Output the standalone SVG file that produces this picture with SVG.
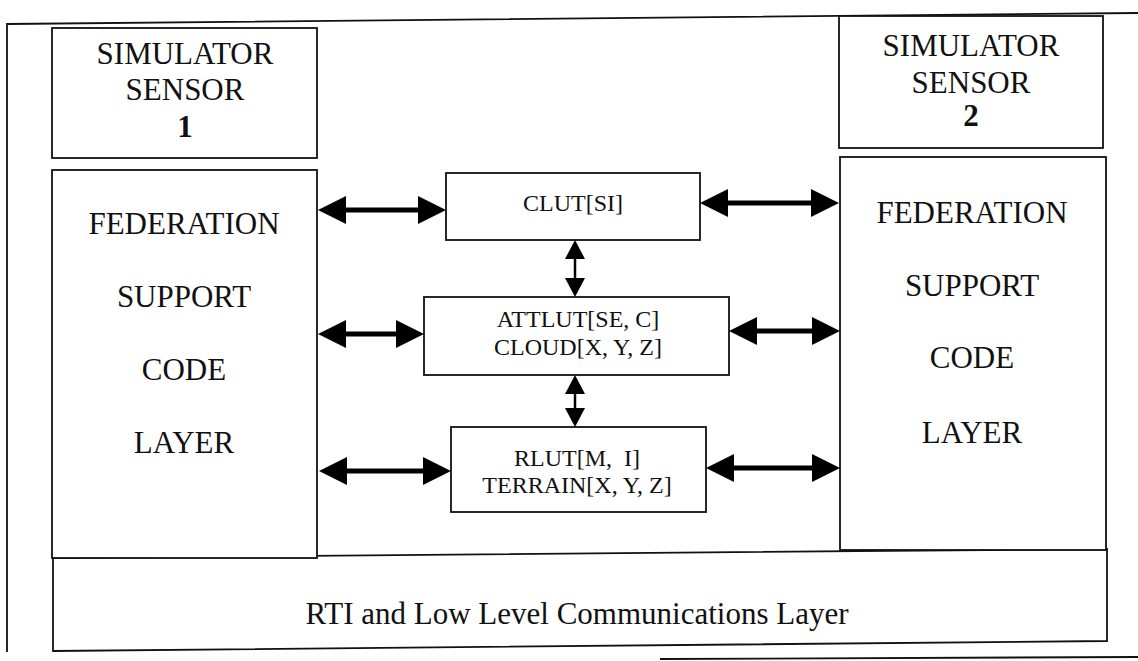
<svg xmlns="http://www.w3.org/2000/svg" width="1138" height="661" viewBox="0 0 1138 661">
  <style>
    .box { fill: #ffffff; stroke: #111111; stroke-width: 1.8; }
    .frame { fill: none; stroke: #111111; stroke-width: 1.8; }
    .t { font-family: "Liberation Serif", "Times New Roman", serif; fill: #111111; text-anchor: middle; }
    .big { font-size: 31px; }
    .mid { font-size: 24px; }
    .b { font-weight: bold; }
    .thick { stroke: #000000; stroke-width: 5; fill: none; marker-start: url(#headBig); marker-end: url(#headBig); }
    .thin { stroke: #000000; stroke-width: 2.5; fill: none; marker-start: url(#headSmall); marker-end: url(#headSmall); }
  </style>
  <defs>
    <marker id="headBig" viewBox="0 0 28 28" refX="14" refY="14" markerWidth="28" markerHeight="28" markerUnits="userSpaceOnUse" orient="auto-start-reverse">
      <path d="M0,0 L28,14 L0,28 Z" fill="#000000"/>
    </marker>
    <marker id="headSmall" viewBox="0 0 19 20" refX="9.5" refY="10" markerWidth="19" markerHeight="20" markerUnits="userSpaceOnUse" orient="auto-start-reverse">
      <path d="M0,0 L19,10 L0,20 Z" fill="#000000"/>
    </marker>
  </defs>
  <rect width="1138" height="661" fill="#ffffff"/>

  <g id="frame">
    <path class="frame" d="M1138,13 L7,24 L7,652"/>
    <path class="frame" d="M660,659 L1138,657"/>
  </g>

  <g id="sensor1">
    <rect class="box" x="52" y="28" width="265" height="130"/>
    <text class="t big" x="185" y="64">SIMULATOR</text>
    <text class="t big" x="185" y="100">SENSOR</text>
    <text class="t big b" x="185" y="137">1</text>
  </g>

  <g id="sensor2">
    <rect class="box" x="839" y="16" width="264" height="132"/>
    <text class="t big" x="971" y="56">SIMULATOR</text>
    <text class="t big" x="971" y="93">SENSOR</text>
    <text class="t big b" x="971" y="126">2</text>
  </g>

  <g id="rti">
    <path class="box" d="M53,558 L1107,549 L1107,641 L53,651 Z"/>
    <text class="t big" x="577" y="624">RTI and Low Level Communications Layer</text>
  </g>

  <g id="fsc1">
    <rect class="box" x="52" y="170" width="265" height="388"/>
    <text class="t big" x="184" y="234">FEDERATION</text>
    <text class="t big" x="184" y="307">SUPPORT</text>
    <text class="t big" x="184" y="380">CODE</text>
    <text class="t big" x="184" y="453">LAYER</text>
  </g>

  <g id="fsc2">
    <rect class="box" x="840" y="157" width="266" height="393"/>
    <text class="t big" x="972" y="223">FEDERATION</text>
    <text class="t big" x="972" y="296">SUPPORT</text>
    <text class="t big" x="972" y="368">CODE</text>
    <text class="t big" x="972" y="443">LAYER</text>
  </g>

  <g id="clut">
    <rect class="box" x="446" y="173" width="254" height="67"/>
    <text class="t mid" x="573" y="211">CLUT[SI]</text>
  </g>

  <g id="attlut">
    <rect class="box" x="424" y="297" width="305" height="78"/>
    <text class="t mid" x="578" y="327">ATTLUT[SE, C]</text>
    <text class="t mid" x="578" y="355">CLOUD[X, Y, Z]</text>
  </g>

  <g id="rlut">
    <rect class="box" x="451" y="427" width="255" height="85"/>
    <text class="t mid" x="577" y="466" xml:space="preserve">RLUT[M,  I]</text>
    <text class="t mid" x="577" y="493">TERRAIN[X, Y, Z]</text>
  </g>

  <g id="connectors">
    <line class="thick" x1="332" y1="210" x2="432" y2="210"/>
    <line class="thick" x1="714" y1="203" x2="825" y2="203"/>
    <line class="thick" x1="332" y1="334" x2="410" y2="334"/>
    <line class="thick" x1="743" y1="331" x2="826" y2="331"/>
    <line class="thick" x1="333" y1="471" x2="437" y2="471"/>
    <line class="thick" x1="720" y1="468" x2="826" y2="468"/>
    <line class="thin" x1="575" y1="249.5" x2="575" y2="287.5"/>
    <line class="thin" x1="575" y1="384.5" x2="575" y2="417.5"/>
  </g>
</svg>
